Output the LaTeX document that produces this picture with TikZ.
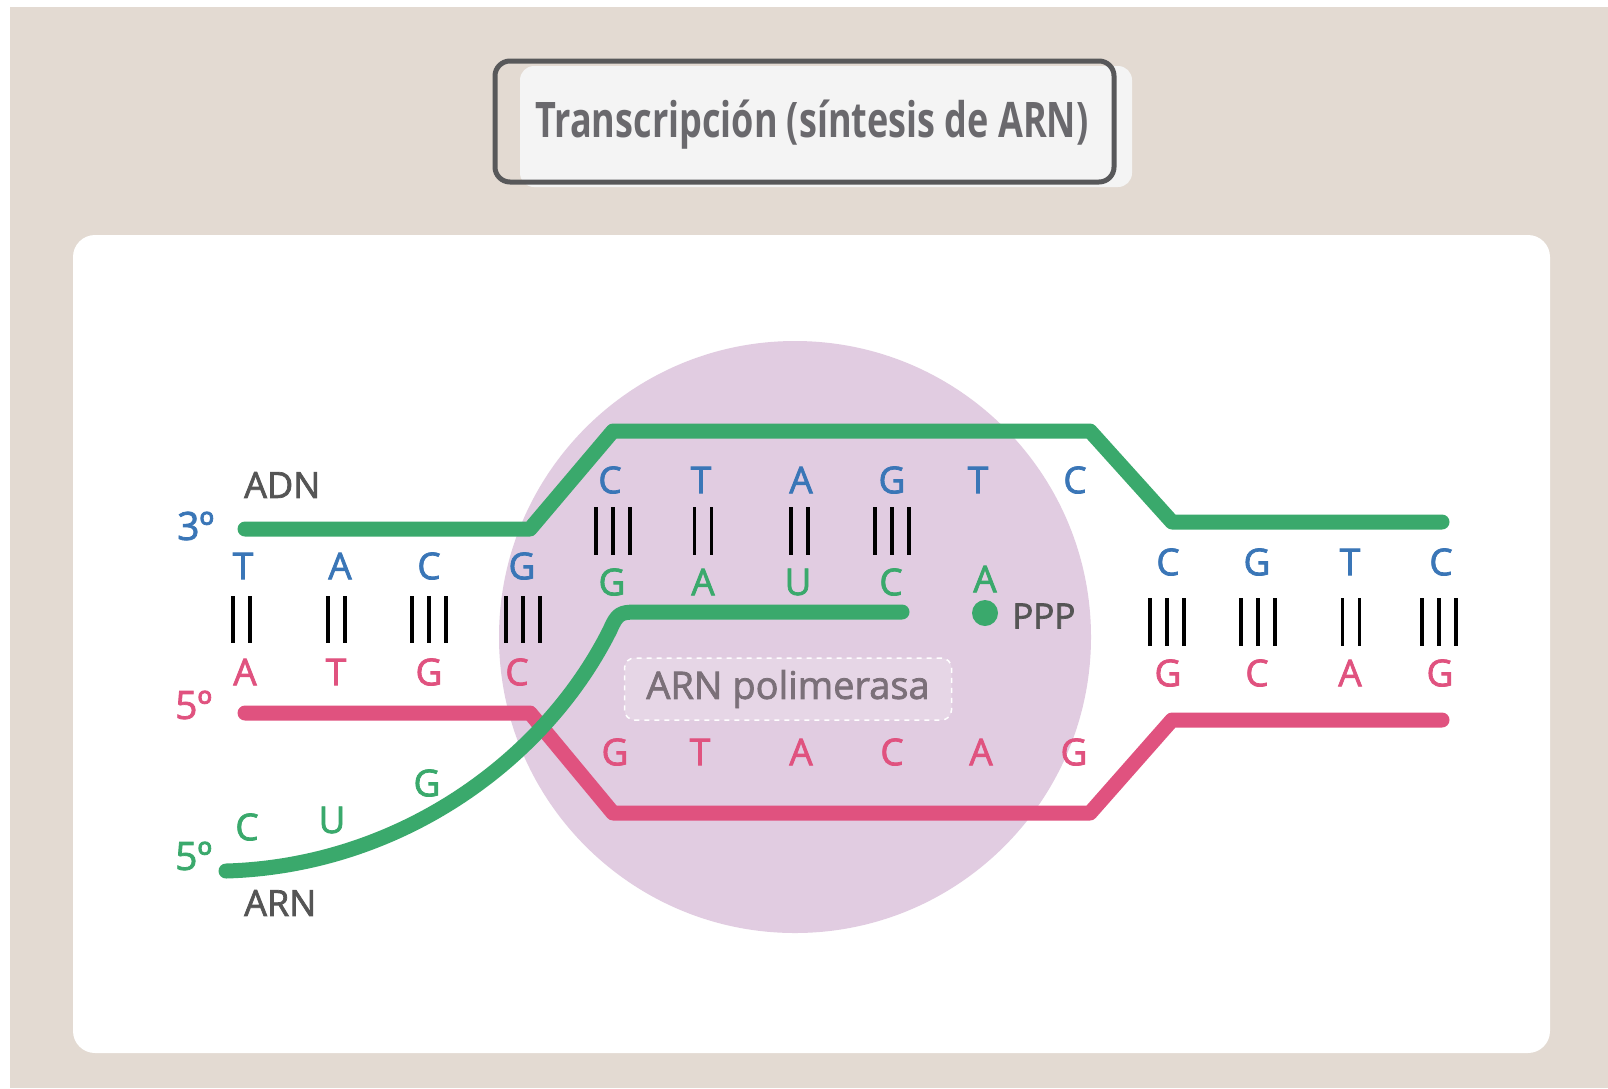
\documentclass[tikz,border=0pt]{standalone}
\usepackage{fontspec}
\usepackage{graphicx}
\setmainfont{Open Sans}
\newfontfamily\semib[FakeBold=2]{Open Sans}
\definecolor{beige}{HTML}{E3DAD2}
\definecolor{titlefill}{HTML}{F4F4F4}
\definecolor{framegray}{HTML}{58585A}
\definecolor{titlegray}{HTML}{6A696D}
\definecolor{dnagreen}{HTML}{3AA96C}
\definecolor{dnapink}{HTML}{E0527F}
\definecolor{dnablue}{HTML}{3A76B7}
\definecolor{polcolor}{HTML}{E1CCE1}
\definecolor{polbox}{HTML}{E6D6E6}
\definecolor{poltext}{HTML}{7B7079}
\definecolor{labgray}{HTML}{555555}
\begin{document}
\begin{tikzpicture}[x=1pt,y=-1pt,
  strand/.style={line width=15pt,line cap=round,line join=round},
  bond/.style={line width=3.6pt,draw=black},
  nuc/.style={font=\semib\fontsize{37}{40}\selectfont,inner sep=0pt},
  lab/.style={font=\semib\fontsize{36}{38}\selectfont,inner sep=0pt,text=labgray},
  endlab/.style={font=\semib\fontsize{39}{42}\selectfont,inner sep=0pt,anchor=west}]
\useasboundingbox (0,0) rectangle (1608,1088);
\fill[white] (0,0) rectangle (1608,1088);
\fill[beige] (10,7) rectangle (1608,1088);
\fill[white,rounded corners=22pt] (73,235) rectangle (1550,1053);
% title
\fill[titlefill,rounded corners=14pt] (520,66) rectangle (1132,187);
\draw[framegray,line width=5pt,rounded corners=15pt] (495,61) rectangle (1114,182);
\node[anchor=base,font=\bfseries\fontsize{49}{52}\selectfont,text=titlegray,inner sep=0pt] (title) at (812,137)
  {\resizebox{553pt}{\height}{Transcripción (síntesis de ARN)}};
% polymerase
\fill[polcolor] (795,637) circle[radius=296pt];
\node[draw=white,dashed,dash pattern=on 5pt off 5pt,line width=1.5pt,fill=polbox,rounded corners=10pt,
  minimum width=327pt,minimum height=62pt,text=poltext,font=\semib\fontsize{38}{40}\selectfont] (pol) at (788,689) {ARN polimerasa};
% strands
\coordinate (g1) at (245,529); \coordinate (g2) at (530,529); \coordinate (g3) at (613,431);
\coordinate (g4) at (1090,431); \coordinate (g5) at (1172,522); \coordinate (g6) at (1442,522);
\draw[strand,dnagreen] (g1) -- (g2) -- (g3) -- (g4) -- (g5) -- (g6);
\coordinate (p1) at (245,713); \coordinate (p2) at (530,713); \coordinate (p3) at (613,813);
\coordinate (p4) at (1090,813); \coordinate (p5) at (1172,720); \coordinate (p6) at (1442,720);
\draw[strand,dnapink] (p1) -- (p2) -- (p3) -- (p4) -- (p5) -- (p6);
\coordinate (r1) at (226,871); \coordinate (r2) at (610,630); \coordinate (r3) at (636,612); \coordinate (r4) at (902,612);
\draw[strand,dnagreen] (r1) .. controls (400,866) and (545,760) .. (r2) .. controls (617,614) and (620,612) .. (r3) -- (r4);
% bonds
\foreach \x/\n in {241.5/2,336.5/2,429/3,523/3}
  \foreach \k in {1,...,\n} \draw[bond] ({\x+(\k-(\n+1)/2)*17},596) -- ++(0,47);
\foreach \x/\n in {613/3,703/2,799.5/2,892/3}
  \foreach \k in {1,...,\n} \draw[bond] ({\x+(\k-(\n+1)/2)*17},507) -- ++(0,48);
\foreach \x/\n in {1167/3,1258/3,1351/2,1439/3}
  \foreach \k in {1,...,\n} \draw[bond] ({\x+(\k-(\n+1)/2)*17},598) -- ++(0,48);
% letters
\foreach \x/\l [count=\i] in {243/T,340/A,429/C,522/G}
  \node[nuc,text=dnablue] (lb\i) at (\x,566) {\l};
\foreach \x/\l [count=\i] in {245/A,336/T,429/G,517/C}
  \node[nuc,text=dnapink] (lp\i) at (\x,672) {\l};
\foreach \x/\l [count=\i] in {610/C,701/T,801/A,892/G,978/T,1075/C}
  \node[nuc,text=dnablue] (mb\i) at (\x,480) {\l};
\foreach \x/\l [count=\i] in {612/G,703/A,798/U,891/C}
  \node[nuc,text=dnagreen] (mg\i) at (\x,582) {\l};
\node[nuc,text=dnagreen] (mg5) at (985,579) {A};
\foreach \x/\l [count=\i] in {615/G,700/T,801/A,892/C,981/A,1074/G}
  \node[nuc,text=dnapink] (mp\i) at (\x,752) {\l};
\foreach \x/\l [count=\i] in {1168/C,1257/G,1350/T,1441/C}
  \node[nuc,text=dnablue] (rb\i) at (\x,562) {\l};
\foreach \x/\l [count=\i] in {1168/G,1257/C,1350/A,1440/G}
  \node[nuc,text=dnapink] (rp\i) at (\x,673) {\l};
\node[nuc,text=dnagreen] (tc) at (247,827) {C};
\node[nuc,text=dnagreen] (tu) at (332,820) {U};
\node[nuc,text=dnagreen] (tg) at (427,783) {G};
% labels
\node[lab,anchor=west] (adn) at (244,485) {ADN};
\node[lab,anchor=west] (arn) at (244,903) {ARN};
\node[endlab,text=dnablue] (three) at (177,526) {3º};
\node[endlab,text=dnapink] (fivep) at (175,705) {5º};
\node[endlab,text=dnagreen] (fiveg) at (175,856) {5º};
\node[circle,fill=dnagreen,minimum size=26pt,inner sep=0pt] (pdot) at (985,613) {};
\node[lab,anchor=west,font=\semib\fontsize{35}{37}\selectfont] (ppp) at (1012,616) {PPP};
\end{tikzpicture}
\end{document}
